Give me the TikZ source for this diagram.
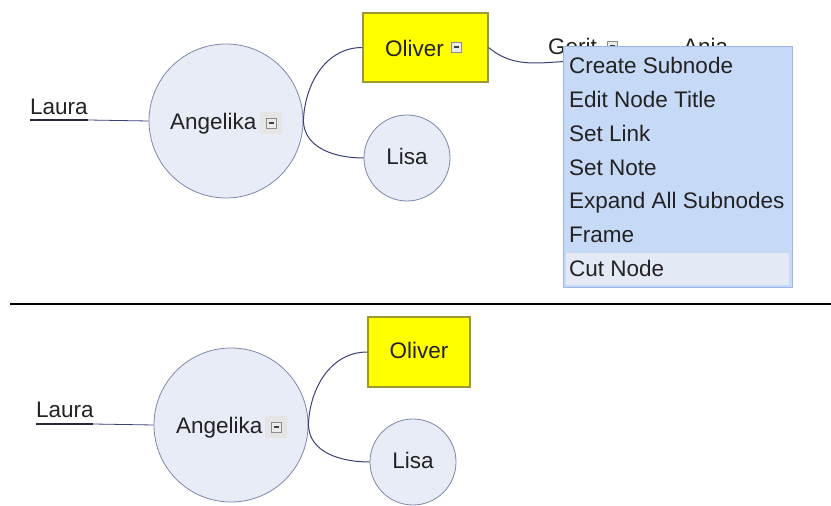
\documentclass[tikz,border=0pt]{standalone}
\usepackage{fontspec}
\setmainfont{Liberation Sans}
\definecolor{bubblefill}{HTML}{E8ECF7}
\definecolor{bubbleline}{HTML}{7E86AA}
\definecolor{linkcol}{HTML}{3B3F78}
\definecolor{boxyellow}{HTML}{FFFF00}
\definecolor{boxline}{HTML}{9A9A30}
\definecolor{menufill}{HTML}{C6D9F7}
\definecolor{menuline}{HTML}{9DB5E5}
\definecolor{menuhi}{HTML}{E4EAF5}
\definecolor{inkcol}{HTML}{222222}
\tikzset{
  lbl/.style={inner sep=0pt, anchor=base west, text=inkcol, font=\fontsize{22.5}{27}\selectfont},
  bubble/.style={circle, draw=bubbleline, fill=bubblefill, line width=0.8pt, inner sep=0pt},
  yellowbox/.style={rectangle, draw=boxline, fill=boxyellow, line width=1.2pt, inner sep=0pt},
  link/.style={draw=linkcol, line width=1pt},
  underl/.style={draw=inkcol!80!linkcol, line width=1.6pt},
  graypad/.style={rectangle, fill=black!10, inner sep=0pt, minimum width=22pt, minimum height=22pt},
  minusicon/.style={rectangle, draw=black!45, fill=white!92!black, line width=0.6pt, inner sep=0pt,
    minimum size=10pt, font=\fontsize{1}{1}\selectfont},
  menubox/.style={rectangle, draw=menuline, fill=menufill, line width=1pt, inner sep=0pt},
  menuitem/.style={lbl},
}
\newcommand{\minusbar}{\textcolor{black!75}{\rule{5pt}{1.2pt}}}
\begin{document}
\begin{tikzpicture}[x=1pt,y=1pt]
\useasboundingbox (0,0) rectangle (831,506);

% ---------------- upper map (with context menu) ----------------
\node[bubble, minimum size=154pt] (angA) at (226,385) {};
\node[lbl] (angAtxt) at (170,376) {Angelika};
\node[graypad] (angApad) at (271,383) {};
\node[minusicon] (angAmin) at (271,383) {\minusbar};

\node[lbl] (lauraA) at (30,391) {Laura};
\coordinate (lauraAul) at (30,386);
\coordinate (lauraAend) at (88,386);
\draw[underl] (lauraAul) -- (lauraAend);
\draw[link, line width=0.8pt] (lauraAend) -- (angA.west);

\node[yellowbox, minimum width=125pt, minimum height=69pt] (olivA) at (425.5,458.5) {};
\node[lbl] (olivAtxt) at (385,449) {Oliver};
\node[minusicon] (olivAmin) at (456,459) {\minusbar};

\node[bubble, minimum size=86pt] (lisaA) at (407,348) {};
\node[lbl, anchor=center] (lisaAtxt) at (407,350) {Lisa};

\draw[link] (angA.east) to[out=88,in=180] (olivA.west);
\draw[link] (angA.east) to[out=-88,in=180] (lisaA.west);

\node[lbl] (gerit) at (548,451) {Gerit};
\node[minusicon] (geritmin) at (612,460) {\minusbar};
\node[lbl] (anja) at (683,451) {Anja};
\coordinate (geritul) at (580,445);
\draw[link] (olivA.east) to[out=-40,in=180] (geritul);

% context menu
\node[menubox, minimum width=229pt, minimum height=241pt] (menu) at (677.5,338.5) {};
\node[rectangle, fill=menuhi, inner sep=0pt, minimum width=223pt, minimum height=32pt] (cuthi) at (677.5,237) {};
\node[menuitem] (m1) at (569,432) {Create Subnode};
\node[menuitem] (m2) at (569,398) {Edit Node Title};
\node[menuitem] (m3) at (569,364) {Set Link};
\node[menuitem] (m4) at (569,330) {Set Note};
\node[menuitem] (m5) at (569,297) {Expand All Subnodes};
\node[menuitem] (m6) at (569,263) {Frame};
\node[menuitem] (m7) at (569,229) {Cut Node};

% ---------------- separator ----------------
\coordinate (sepL) at (10,202);
\coordinate (sepR) at (831,202);
\draw[line width=1.6pt, black] (sepL) -- (sepR);

% ---------------- lower map (after the cut) ----------------
\node[bubble, minimum size=154pt] (angB) at (231,81) {};
\node[lbl] (angBtxt) at (176,72) {Angelika};
\node[graypad] (angBpad) at (276,79) {};
\node[minusicon] (angBmin) at (276,79) {\minusbar};

\node[lbl] (lauraB) at (36,88) {Laura};
\coordinate (lauraBul) at (36,82);
\coordinate (lauraBend) at (93,82);
\draw[underl] (lauraBul) -- (lauraBend);
\draw[link, line width=0.8pt] (lauraBend) -- (angB.west);

\node[yellowbox, minimum width=102pt, minimum height=70pt] (olivB) at (419,154) {};
\node[lbl, anchor=center] (olivBtxt) at (419,156) {Oliver};

\node[bubble, minimum size=86pt] (lisaB) at (413,44) {};
\node[lbl, anchor=center] (lisaBtxt) at (413,46) {Lisa};

\draw[link] (angB.east) to[out=88,in=180] (olivB.west);
\draw[link] (angB.east) to[out=-88,in=180] (lisaB.west);
\end{tikzpicture}
\end{document}
